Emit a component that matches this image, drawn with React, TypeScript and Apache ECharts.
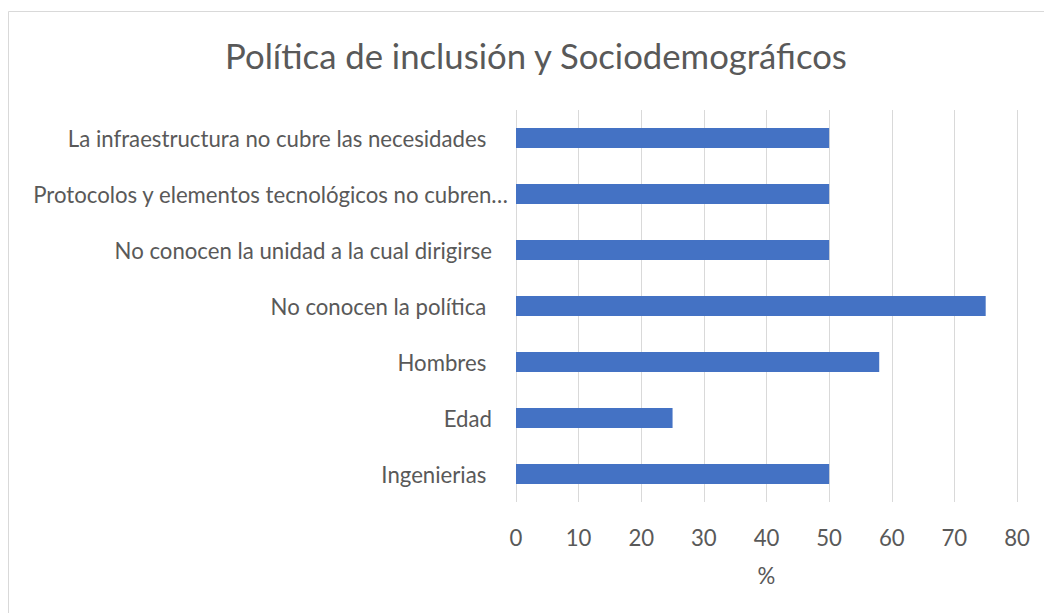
import React, { useEffect, useRef } from "react";
import * as echarts from "echarts";

const titleText = "Política de inclusión y Sociodemográficos";
const categories = [
  "Ingenierias ",
  "Edad",
  "Hombres ",
  "No conocen la política ",
  "No conocen la unidad a la cual dirigirse",
  "Protocolos y elementos tecnológicos no cubren…",
  "La infraestructura no cubre las necesidades ",
];
const values = [50, 25, 58, 75, 50, 50, 50];
const axisName = "%";
const xMin = 0;
const xMax = 80;
const xInterval = 10;

const FONT = "Lato, 'Noto Sans', sans-serif";
const TEXT = "#595959";
const LABEL_SIZE = 22.2;

export default function App() {
  const ref = useRef<HTMLDivElement>(null);
  useEffect(() => {
    if (!ref.current) return;
    const chart = echarts.init(ref.current, undefined, { renderer: "svg" });
    chart.setOption({
      animation: false,
      backgroundColor: "#ffffff",
      textStyle: { fontFamily: FONT },
      title: {
        text: titleText,
        left: 531,
        top: 33,
        textAlign: "center",
        textStyle: { fontFamily: FONT, fontSize: 34.7, fontWeight: "normal", color: TEXT },
      },
      graphic: [
        {
          type: "rect",
          shape: { x: 8.5, y: 11.5, width: 1200, height: 800 },
          style: { fill: "none", stroke: "#D9D9D9", lineWidth: 1 },
          silent: true,
        },
      ],
      grid: { left: 516, right: 27, top: 110, bottom: 111, containLabel: false },
      xAxis: {
        type: "value",
        min: xMin,
        max: xMax,
        interval: xInterval,
        name: axisName,
        nameLocation: "middle",
        nameGap: 62,
        nameTextStyle: { fontFamily: FONT, fontSize: LABEL_SIZE, color: TEXT },
        axisLine: { show: false },
        axisTick: { show: false },
        axisLabel: { margin: 24, fontFamily: FONT, fontSize: LABEL_SIZE, color: TEXT },
        splitLine: { show: true, lineStyle: { color: "#D9D9D9", width: 1 } },
      },
      yAxis: {
        type: "category",
        data: categories,
        axisLine: { show: false },
        axisTick: { show: false },
        axisLabel: {
          margin: 8,
          fontFamily: FONT,
          fontSize: LABEL_SIZE,
          color: TEXT,
          formatter: (v: string) =>
            v.startsWith("Protocolos") ? `{t|${v}}` : `{n|${v}}`,
          rich: {
            t: { fontFamily: FONT, fontSize: LABEL_SIZE, color: TEXT },
            n: { fontFamily: FONT, fontSize: LABEL_SIZE, color: TEXT, padding: [0, 16, 0, 0] },
          },
        },
      },
      series: [
        {
          type: "bar",
          data: values,
          barWidth: 20,
          itemStyle: { color: "#4472C4" },
        },
      ],
    });
    return () => chart.dispose();
  }, []);
  return (
    <div
      ref={ref}
      style={{ position: "fixed", left: 0, top: 0, width: 1044, height: 613 }}
    />
  );
}
